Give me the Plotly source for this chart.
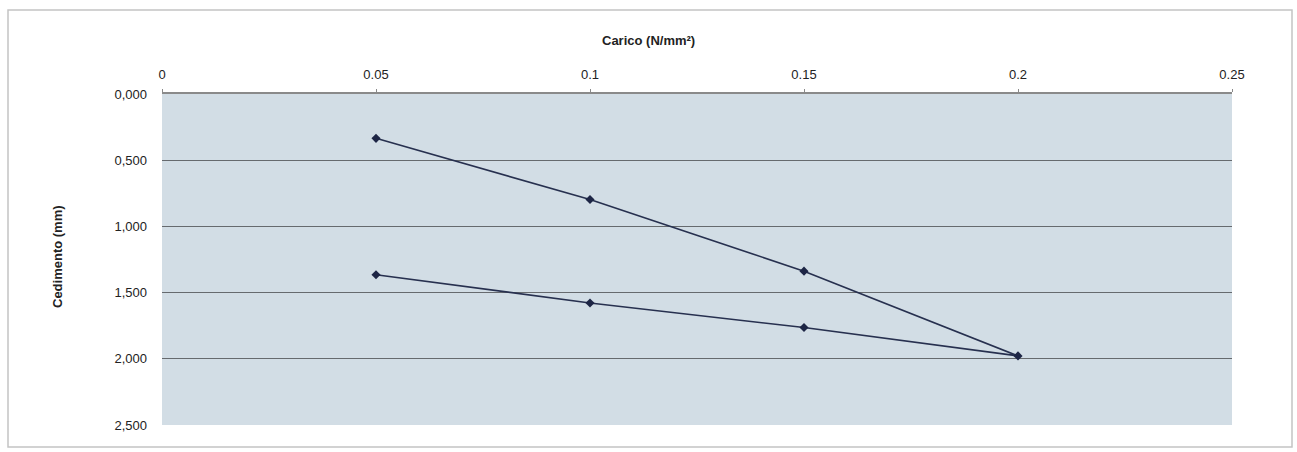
import plotly.graph_objects as go

# Load cycle: applied pressure (N/mm²) and measured settlement (mm)
carico = [0.05, 0.10, 0.15, 0.20, 0.15, 0.10, 0.05]
cedimento = [0.335, 0.797, 1.338, 1.978, 1.764, 1.578, 1.365]

x_ticks = [0, 0.05, 0.1, 0.15, 0.2, 0.25]
x_labels = ["0", "0.05", "0.1", "0.15", "0.2", "0.25"]
y_ticks = [0, 0.5, 1.0, 1.5, 2.0, 2.5]
y_labels = ["0,000", "0,500", "1,000", "1,500", "2,000", "2,500"]

W, H = 1297, 452
L, R, T, B = 162, 65, 94, 27
pw, ph = W - L - R, H - T - B

fam = "Liberation Sans, Arial, sans-serif"
tick_font = dict(family=fam, size=13, color="#222222")
title_font = dict(family=fam, size=13, color="#222222")

fig = go.Figure()
fig.add_trace(go.Scatter(
    x=carico, y=cedimento, mode="lines+markers",
    line=dict(color="#27304f", width=1.6),
    marker=dict(symbol="diamond", size=7, color="#1d2545"),
    showlegend=False, hoverinfo="x+y",
))

fig.update_layout(
    width=W, height=H,
    margin=dict(l=L, r=R, t=T, b=B),
    paper_bgcolor="white",
    plot_bgcolor="#d2dde5",
    font=tick_font,
    xaxis=dict(
        range=[0, 0.25], side="top", tickvals=x_ticks, ticktext=x_labels,
        showgrid=False, zeroline=False, showline=True, linecolor="#8a8a8a",
        linewidth=1.5, ticks="outside", ticklen=3, tickcolor="#8a8a8a",
        ticklabelstandoff=5, tickfont=tick_font,
    ),
    yaxis=dict(
        range=[2.5, 0], tickvals=y_ticks, ticktext=y_labels,
        showgrid=True, gridcolor="#666a6e", gridwidth=1.2,
        zeroline=False, showline=False, ticks="",
        ticklabelstandoff=14, tickfont=tick_font,
    ),
    annotations=[
        dict(
            text="<b>Carico (N/mm²)</b>", xref="paper", yref="paper",
            x=(648 - L) / pw, y=(H - B - 41) / ph, showarrow=False,
            font=title_font, xanchor="center", yanchor="middle",
        ),
        dict(
            text="<b>Cedimento (mm)</b>", xref="paper", yref="paper",
            x=(57 - L) / pw, y=(H - B - 257) / ph, showarrow=False,
            font=title_font, textangle=-90, xanchor="center", yanchor="middle",
        ),
    ],
    shapes=[dict(
        type="rect", xref="paper", yref="paper",
        x0=(8 - L) / pw, x1=(1292 - L) / pw,
        y0=(H - B - 447) / ph, y1=(H - B - 10) / ph,
        line=dict(color="#c4c4c4", width=1.5), fillcolor="rgba(0,0,0,0)", layer="below",
    )],
)

fig.write_html("out.html")
